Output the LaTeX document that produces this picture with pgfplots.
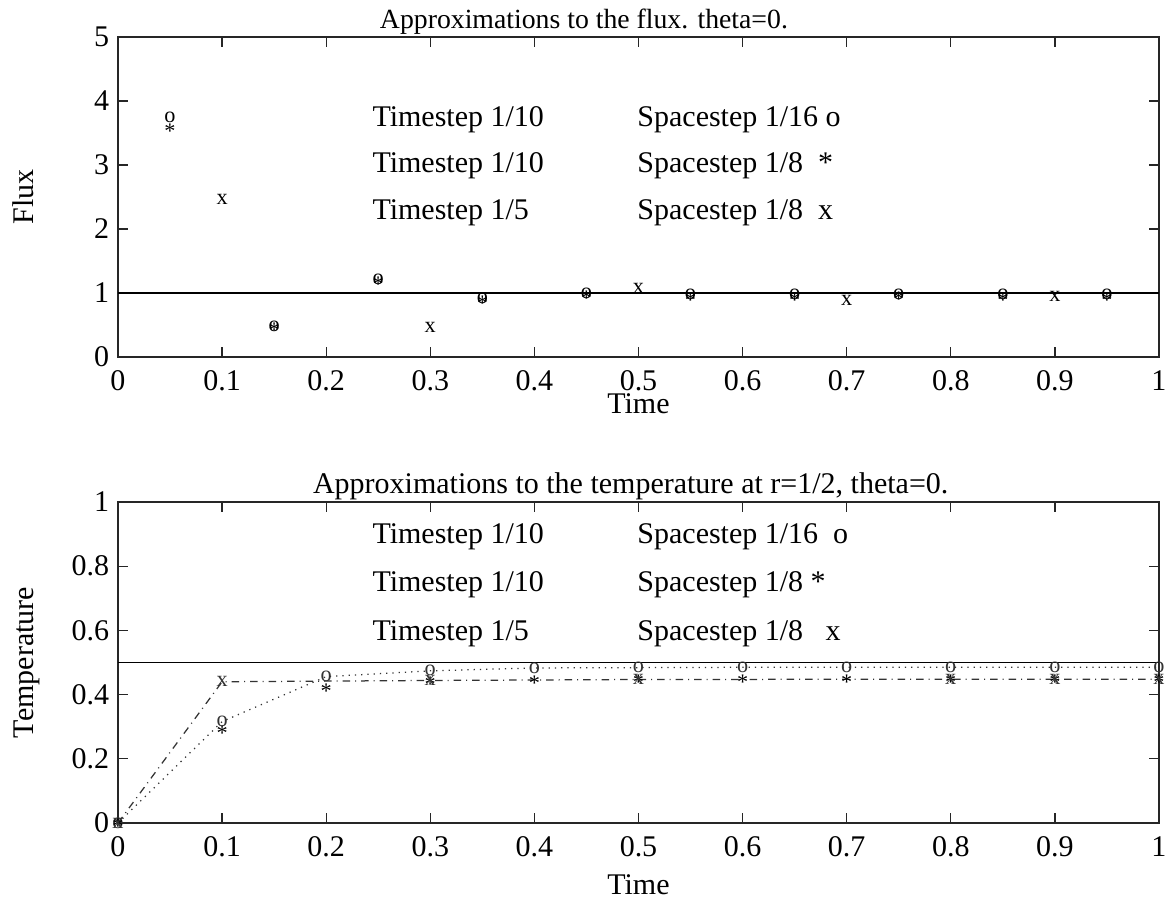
\documentclass[border=0pt]{standalone}
\usepackage{fontspec}
\setmainfont{Liberation Serif}
\usepackage{pgfplots}
\pgfplotsset{compat=1.18}

\pgfplotstableread{
x y
0.05 3.74
0.15 0.48
0.25 1.22
0.35 0.92
0.45 1.00
0.55 0.98
0.65 0.98
0.75 0.98
0.85 0.98
0.95 0.98
}\fluxO
\pgfplotstableread{
x y
0.05 3.58
0.15 0.47
0.25 1.18
0.35 0.89
0.45 0.96
0.55 0.94
0.65 0.94
0.75 0.95
0.85 0.94
0.95 0.94
}\fluxS
\pgfplotstableread{
x y
0.1 2.46
0.3 0.47
0.5 1.07
0.7 0.89
0.9 0.95
}\fluxX
\pgfplotstableread{
x y
0 0
0.1 0.316
0.2 0.456
0.3 0.474
0.4 0.483
0.5 0.484
0.6 0.485
0.7 0.485
0.8 0.485
0.9 0.485
1.0 0.485
}\tempO
\pgfplotstableread{
x y
0 0
0.1 0.29
0.2 0.42
0.3 0.442
0.4 0.446
0.5 0.448
0.6 0.448
0.7 0.448
0.8 0.448
0.9 0.448
1.0 0.448
}\tempS
\pgfplotstableread{
x y
0 0
0.1 0.44
0.3 0.444
0.5 0.447
0.8 0.448
0.9 0.448
1.0 0.448
}\tempX

\newcommand{\mkfont}{\fontsize{8.9}{10}\selectfont}
\pgfplotsset{
  mystyle/.style={
    scale only axis, width=416.4pt, anchor=south west,
    xmin=0, xmax=1,
    xtick={0,0.1,0.2,0.3,0.4,0.5,0.6,0.7,0.8,0.9,1},
    tick align=inside, tick pos=both,
    xticklabel pos=lower, yticklabel pos=left,
    major tick length=4pt,
    axis line style={line width=0.6pt, black!85},
    tick style={line width=0.5pt, black!85},
    /pgf/number format/assume math mode=true,
    ticklabel style={font=\fontsize{12}{14}\selectfont},
    xticklabel style={yshift=-2pt},
    clip=false,
    every axis y label/.style={at={(axis description cs:-0.0815,0.5)}, rotate=90, anchor=base},
  },
  omark/.style={mark=text, text mark={o}, text mark as node=true,
    text mark style={anchor=center, inner sep=0pt, font=\mkfont}},
  smark/.style={mark=text, text mark={*}, text mark as node=true,
    text mark style={anchor=center, inner sep=0pt, yshift=-1.2pt, font=\mkfont}},
  xmark/.style={mark=text, text mark={x}, text mark as node=true,
    text mark style={anchor=center, inner sep=0pt, font=\mkfont}},
}

\begin{document}
\begin{tikzpicture}[font=\fontsize{12}{14}\selectfont]
\useasboundingbox (0,0) rectangle (466.8pt,361.6pt);

\begin{axis}[mystyle,
  at={(47.2pt,218.8pt)}, height=128pt,
  ymin=0, ymax=5, ytick={0,1,2,3,4,5},
  title={Approximations to the flux. theta=0.},
  every axis title/.style={at={(axis description cs:0.4476,1)}, anchor=base, yshift=3.4pt, font=\fontsize{11.1}{13}\selectfont},
  xlabel={Time}, ylabel={Flux},
  every axis x label/.style={at={(axis description cs:0.5,0)}, anchor=base, yshift=-22.6pt},
]
\addplot[black, line width=0.5pt] coordinates {(0,1) (1,1)};
\addplot[only marks, omark] table {\fluxO};
\addplot[only marks, smark] table {\fluxS};
\addplot[only marks, xmark] table {\fluxX};
\begin{scope}[every node/.style={anchor=base west, inner sep=0pt}]
\node at (axis cs:0.244,3.594) {Timestep 1/10};
\node at (axis cs:0.244,2.875) {Timestep 1/10};
\node at (axis cs:0.244,2.156) {Timestep 1/5};
\node at (axis cs:0.4985,3.594) {Spacestep 1/16 o};
\node at (axis cs:0.4985,2.875) {Spacestep 1/8\ \ *};
\node at (axis cs:0.4985,2.156) {Spacestep 1/8\ \ x};
\end{scope}
\end{axis}

\begin{axis}[mystyle,
  at={(47.2pt,32.4pt)}, height=128.4pt,
  ymin=0, ymax=1, ytick={0,0.2,0.4,0.6,0.8,1},
  title={Approximations to the temperature at r=1/2, theta=0.},
  every axis title/.style={at={(axis description cs:0.4925,1)}, anchor=base, yshift=3.4pt},
  xlabel={Time}, ylabel={Temperature},
  every axis x label/.style={at={(axis description cs:0.5,0)}, anchor=base, yshift=-28.8pt},
]
\addplot[black, line width=0.5pt] coordinates {(0,0.5) (1,0.5)};
\addplot[black!80, dotted, line width=0.5pt, omark] table {\tempO};
\addplot[only marks, smark] table {\tempS};
\addplot[black!80, dashdotted, line width=0.5pt, xmark] table {\tempX};
\begin{scope}[every node/.style={anchor=base west, inner sep=0pt}]
\node at (axis cs:0.244,0.872) {Timestep 1/10};
\node at (axis cs:0.244,0.721) {Timestep 1/10};
\node at (axis cs:0.244,0.570) {Timestep 1/5};
\node at (axis cs:0.4985,0.872) {Spacestep 1/16\ \ o};
\node at (axis cs:0.4985,0.721) {Spacestep 1/8 *};
\node at (axis cs:0.4985,0.570) {Spacestep 1/8\ \ \ x};
\end{scope}
\end{axis}
\end{tikzpicture}
\end{document}
